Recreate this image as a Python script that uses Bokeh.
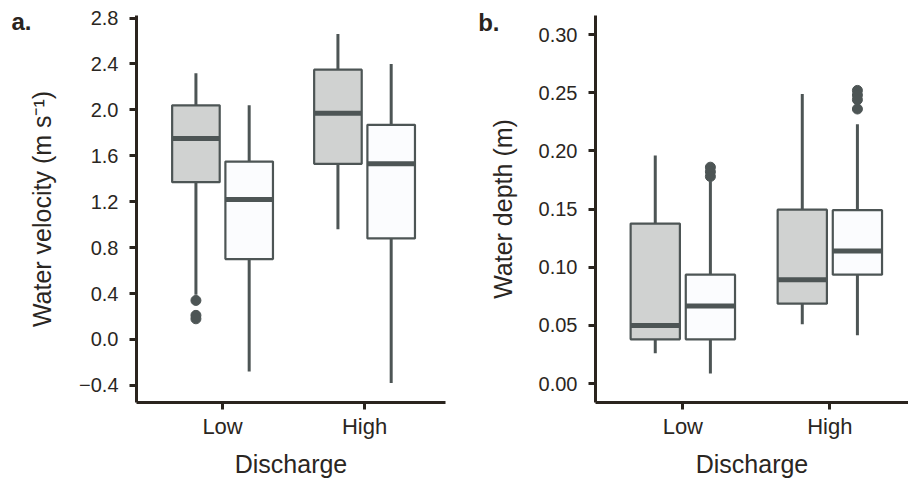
from bokeh.plotting import figure
from bokeh.layouts import row
from bokeh.models import FixedTicker, LinearAxis, Range1d, ColumnDataSource
from bokeh.embed import file_html
from bokeh.resources import INLINE

# ---------------- data ----------------
categories = ["Low", "High"]
groups = ["grey", "white"]          # two boxes per discharge level
# order of boxes: Low-grey, Low-white, High-grey, High-white
box_cat = [0, 0, 1, 1]
box_grp = [0, 1, 0, 1]

vel_lo = [0.39, -0.28, 0.96, -0.38]
vel_q1 = [1.37, 0.70, 1.53, 0.88]
vel_med = [1.75, 1.22, 1.97, 1.53]
vel_q3 = [2.04, 1.55, 2.35, 1.87]
vel_hi = [2.32, 2.04, 2.66, 2.40]
vel_out_box = [0, 0, 0]
vel_out = [0.34, 0.21, 0.18]
vel_ticks = [-0.4, 0.0, 0.4, 0.8, 1.2, 1.6, 2.0, 2.4, 2.8]
vel_tick_labels = ["\u22120.4", "0.0", "0.4", "0.8", "1.2", "1.6", "2.0", "2.4", "2.8"]

dep_lo = [0.026, 0.0086, 0.051, 0.0415]
dep_q1 = [0.038, 0.038, 0.0687, 0.0936]
dep_med = [0.050, 0.0667, 0.0893, 0.114]
dep_q3 = [0.1375, 0.0936, 0.1495, 0.149]
dep_hi = [0.196, 0.174, 0.249, 0.223]
dep_out_box = [1, 1, 1, 3, 3, 3, 3]
dep_out = [0.186, 0.182, 0.178, 0.252, 0.248, 0.244, 0.236]
dep_ticks = [0.0, 0.05, 0.10, 0.15, 0.20, 0.25, 0.30]
dep_tick_labels = ["0.00", "0.05", "0.10", "0.15", "0.20", "0.25", "0.30"]

panel_labels = ["a.", "b."]

# ---------------- style ----------------
AX = "#2a241e"
TXT = "#2a2622"
EDGE = "#4d5555"
FILLS = ["#d0d2d1", "#fbfcfe"]
FONT = "Liberation Sans"
DODGE = 0.1875
BOXW = 0.335


def make_panel(lo, q1, med, q3, hi, out_box, out, ticks, tick_labels,
               xr, yr, frame_w, border_left, border_right, ylabel, panel_label,
               panel_label_y, panel_label_standoff, ylabel_standoff):
    p = figure(frame_width=frame_w, frame_height=387,
               x_range=Range1d(*xr), y_range=Range1d(*yr),
               output_backend="svg", toolbar_location=None,
               min_border_left=border_left, min_border_right=border_right,
               min_border_top=15, min_border_bottom=79)
    p.grid.visible = False
    p.outline_line_color = None
    p.background_fill_color = "white"
    p.border_fill_color = "white"

    xs = [c + 1 + (DODGE if g else -DODGE) for c, g in zip(box_cat, box_grp)]
    src = ColumnDataSource(dict(x=xs, lo=lo, q1=q1, med=med, q3=q3, hi=hi,
                                fill=[FILLS[g] for g in box_grp],
                                xl=[x - BOXW / 2 for x in xs],
                                xr=[x + BOXW / 2 for x in xs]))
    p.segment(x0="x", y0="lo", x1="x", y1="hi", source=src,
              line_color=EDGE, line_width=3)
    p.quad(left="xl", right="xr", bottom="q1", top="q3", source=src,
           fill_color="fill", line_color=EDGE, line_width=2.2)
    p.segment(x0="xl", y0="med", x1="xr", y1="med", source=src,
              line_color=EDGE, line_width=5)
    ox = [xs[b] for b in out_box]
    p.scatter(ox, out, size=10, fill_color=EDGE, line_color=EDGE)

    # axes
    p.xaxis.ticker = FixedTicker(ticks=[1, 2])
    p.xaxis.major_label_overrides = {1: categories[0], 2: categories[1]}
    p.yaxis.ticker = FixedTicker(ticks=ticks)
    p.yaxis.major_label_overrides = {t: s for t, s in zip(ticks, tick_labels)}
    for ax in (p.xaxis[0], p.yaxis[0]):
        ax.axis_line_color = AX
        ax.axis_line_width = 3
        ax.major_tick_line_color = AX
        ax.major_tick_line_width = 3
        ax.major_tick_out = 7
        ax.major_tick_in = 0
        ax.minor_tick_line_color = None
        ax.major_label_text_font = FONT
        ax.major_label_text_color = TXT
        ax.axis_label_text_font = FONT
        ax.axis_label_text_font_style = "normal"
        ax.axis_label_text_color = TXT
        ax.axis_label_text_font_size = "25px"
    p.yaxis.major_label_text_font_size = "20px"
    p.yaxis.major_label_standoff = 11
    p.yaxis.axis_label = ylabel
    p.yaxis.axis_label_standoff = ylabel_standoff
    p.xaxis.major_label_text_font_size = "22px"
    p.xaxis.major_label_standoff = 4
    p.xaxis.axis_label = "Discharge"
    p.xaxis.axis_label_standoff = 8

    # panel letter, drawn as the single label of an extra, line-less left axis
    tag = LinearAxis(ticker=FixedTicker(ticks=[panel_label_y]),
                     major_label_overrides={panel_label_y: panel_label},
                     axis_line_color=None, major_tick_line_color=None,
                     minor_tick_line_color=None, major_tick_out=0, major_tick_in=0,
                     major_label_standoff=panel_label_standoff,
                     major_label_text_font=FONT,
                     major_label_text_font_style="bold",
                     major_label_text_font_size="24px", major_label_text_color=AX)
    p.add_layout(tag, "left")
    return p


p1 = make_panel(vel_lo, vel_q1, vel_med, vel_q3, vel_hi, vel_out_box, vel_out,
                vel_ticks, vel_tick_labels, (0.394, 2.570), (-0.549, 2.822),
                309, 136, 5, "Water velocity (m s\u207b\u00b9)", panel_labels[0],
                2.767, -6, 20)
p2 = make_panel(dep_lo, dep_q1, dep_med, dep_q3, dep_hi, dep_out_box, dep_out,
                dep_ticks, dep_tick_labels, (0.406, 2.535), (-0.0163, 0.3164),
                313, 145, 0, "Water depth (m)", panel_labels[1], 0.3106, -14, 19)

layout = row(p1, p2)
open("out.html", "w").write(file_html(layout, INLINE))
